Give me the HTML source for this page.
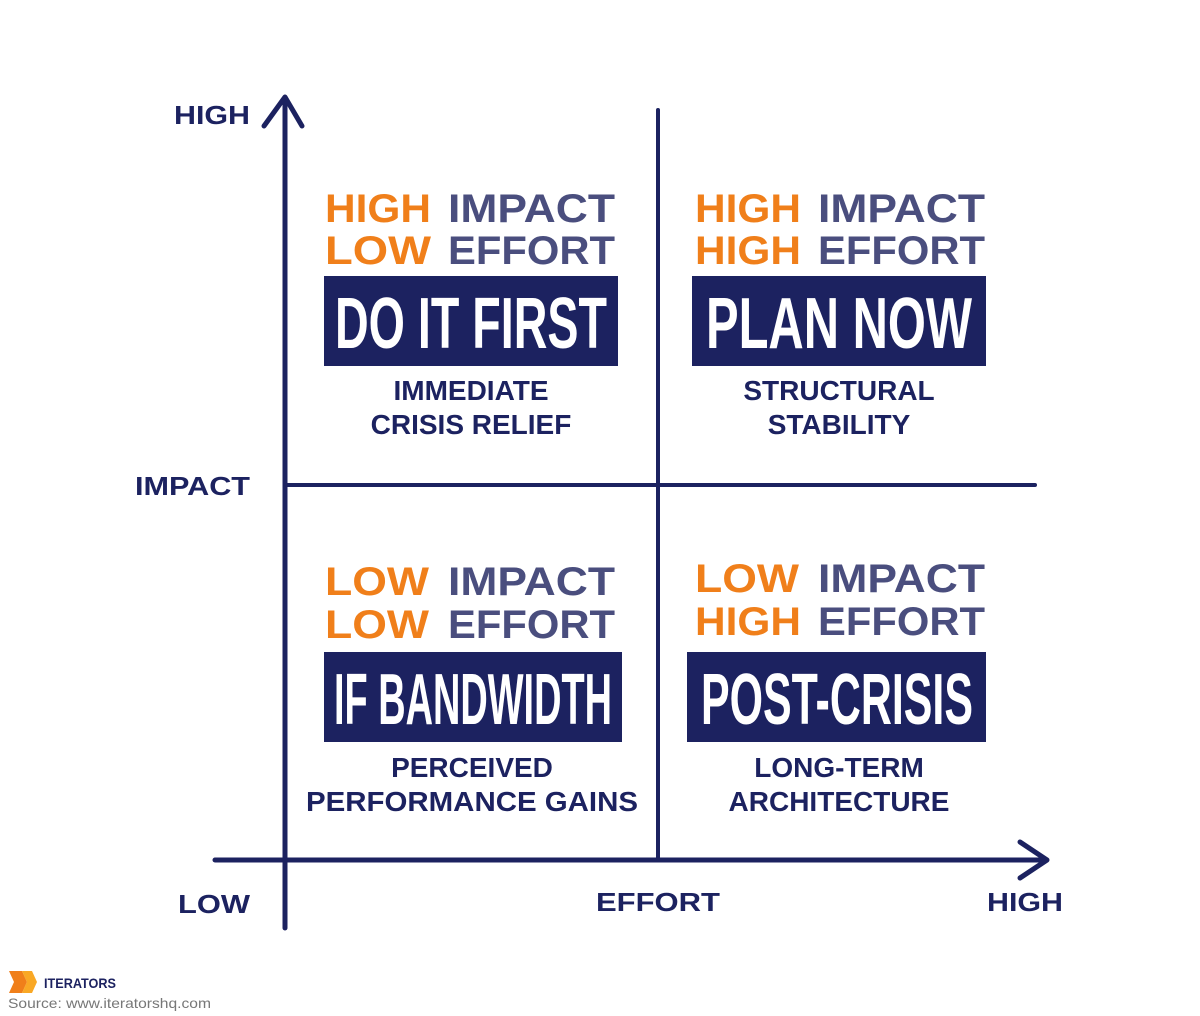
<!DOCTYPE html>
<html><head><meta charset="utf-8"><style>
html,body{margin:0;padding:0;background:#fff;}
svg{display:block;}
text{font-family:"Liberation Sans",sans-serif;font-weight:bold;}
</style></head><body>
<svg width="1200" height="1016" viewBox="0 0 1200 1016" xmlns="http://www.w3.org/2000/svg">
<rect width="1200" height="1016" fill="#fff"/>
<g stroke="#1c2260" stroke-width="5" fill="none" stroke-linecap="round" stroke-linejoin="round">
<line x1="285" y1="100" x2="285" y2="928"/>
<polyline points="264,126 285,97 302,126"/>
<line x1="215" y1="860" x2="1045" y2="860"/>
<polyline points="1020,842 1047,860 1020,878"/>
<line x1="658" y1="110" x2="658" y2="860" stroke-width="4"/>
<line x1="285" y1="485" x2="1035" y2="485" stroke-width="4"/>
</g>
<g fill="#1c2260" font-size="26">
<text x="174" y="124" textLength="76" lengthAdjust="spacingAndGlyphs">HIGH</text>
<text x="135" y="495" textLength="115" lengthAdjust="spacingAndGlyphs">IMPACT</text>
<text x="178" y="913" textLength="72" lengthAdjust="spacingAndGlyphs">LOW</text>
<text x="596" y="911" textLength="124" lengthAdjust="spacingAndGlyphs">EFFORT</text>
<text x="987" y="911" textLength="76" lengthAdjust="spacingAndGlyphs">HIGH</text>
</g>
<g font-size="40">
<!-- Q1 -->
<text x="325" y="222" fill="#f07f1a" textLength="106" lengthAdjust="spacingAndGlyphs">HIGH</text>
<text x="448" y="222" fill="#4a4e7e" textLength="167" lengthAdjust="spacingAndGlyphs">IMPACT</text>
<text x="325" y="264" fill="#f07f1a" textLength="106" lengthAdjust="spacingAndGlyphs">LOW</text>
<text x="448" y="264" fill="#4a4e7e" textLength="167" lengthAdjust="spacingAndGlyphs">EFFORT</text>
<!-- Q2 -->
<text x="695" y="222" fill="#f07f1a" textLength="106" lengthAdjust="spacingAndGlyphs">HIGH</text>
<text x="818" y="222" fill="#4a4e7e" textLength="167" lengthAdjust="spacingAndGlyphs">IMPACT</text>
<text x="695" y="264" fill="#f07f1a" textLength="106" lengthAdjust="spacingAndGlyphs">HIGH</text>
<text x="818" y="264" fill="#4a4e7e" textLength="167" lengthAdjust="spacingAndGlyphs">EFFORT</text>
<!-- Q3 -->
<text x="325" y="595" fill="#f07f1a" textLength="104" lengthAdjust="spacingAndGlyphs">LOW</text>
<text x="448" y="595" fill="#4a4e7e" textLength="167" lengthAdjust="spacingAndGlyphs">IMPACT</text>
<text x="325" y="638" fill="#f07f1a" textLength="104" lengthAdjust="spacingAndGlyphs">LOW</text>
<text x="448" y="638" fill="#4a4e7e" textLength="167" lengthAdjust="spacingAndGlyphs">EFFORT</text>
<!-- Q4 -->
<text x="695" y="592" fill="#f07f1a" textLength="104" lengthAdjust="spacingAndGlyphs">LOW</text>
<text x="818" y="592" fill="#4a4e7e" textLength="167" lengthAdjust="spacingAndGlyphs">IMPACT</text>
<text x="695" y="635" fill="#f07f1a" textLength="106" lengthAdjust="spacingAndGlyphs">HIGH</text>
<text x="818" y="635" fill="#4a4e7e" textLength="167" lengthAdjust="spacingAndGlyphs">EFFORT</text>
</g>
<g fill="#1c2260">
<rect x="324" y="276" width="294" height="90"/>
<rect x="692" y="276" width="294" height="90"/>
<rect x="324" y="652" width="298" height="90"/>
<rect x="687" y="652" width="299" height="90"/>
</g>
<g fill="#fff" font-size="72">
<text x="335" y="348" textLength="272" lengthAdjust="spacingAndGlyphs">DO IT FIRST</text>
<text x="706" y="348" textLength="266" lengthAdjust="spacingAndGlyphs">PLAN NOW</text>
<text x="334" y="724" textLength="278" lengthAdjust="spacingAndGlyphs">IF BANDWIDTH</text>
<text x="701" y="724" textLength="272" lengthAdjust="spacingAndGlyphs">POST-CRISIS</text>
</g>
<g fill="#1c2260" font-size="28" text-anchor="middle">
<text x="471" y="400">IMMEDIATE</text>
<text x="471" y="434">CRISIS RELIEF</text>
<text x="839" y="400">STRUCTURAL</text>
<text x="839" y="434">STABILITY</text>
<text x="472" y="777">PERCEIVED</text>
<text x="472" y="811" textLength="332" lengthAdjust="spacingAndGlyphs">PERFORMANCE GAINS</text>
<text x="839" y="777">LONG-TERM</text>
<text x="839" y="811">ARCHITECTURE</text>
</g>
<g>
<polygon points="9,971 22,971 27,982 22,993 9,993 14,982" fill="#f07f1a"/>
<polygon points="22,971 32,971 37,982 32,993 22,993 27,982" fill="#f9a825"/>
<text x="44" y="988" font-size="14" fill="#1c2260" textLength="72" lengthAdjust="spacingAndGlyphs">ITERATORS</text>
<text x="8" y="1008" font-size="14" fill="#777" font-weight="normal" style="font-weight:normal" textLength="203" lengthAdjust="spacingAndGlyphs">Source: www.iteratorshq.com</text>
</g>
</svg>
</body></html>
